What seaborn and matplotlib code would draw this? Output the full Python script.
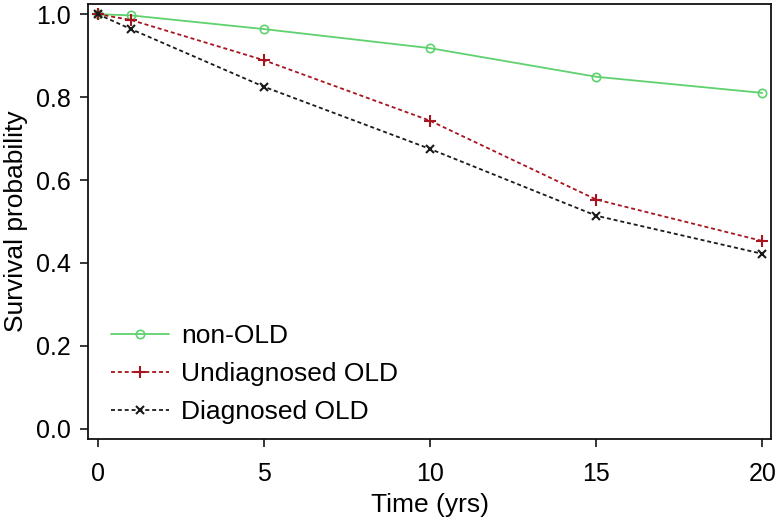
import numpy as np
import pandas as pd
import matplotlib
matplotlib.use("Agg")
import matplotlib.pyplot as plt
import seaborn as sns

sns.set_style("white")
plt.rcParams['font.family'] = ['Liberation Sans', 'DejaVu Sans']
plt.rcParams.update({
    'font.size': 18,
    'xtick.labelsize': 18,
    'ytick.labelsize': 18,
    'axes.labelsize': 19,
    'legend.fontsize': 19,
    'axes.linewidth': 1.3,
    'xtick.major.size': 6,
    'ytick.major.size': 6,
    'xtick.major.width': 1.1,
    'ytick.major.width': 1.1,
    'text.color': 'black',
    'axes.labelcolor': 'black',
    'xtick.color': 'black',
    'ytick.color': 'black',
})

# D A T A
time_yrs = [0, 1, 5, 10, 15, 20]
non_old = [1.0, 0.997, 0.964, 0.918, 0.849, 0.810]
undiag_old = [1.0, 0.986, 0.889, 0.743, 0.553, 0.453]
diag_old = [1.0, 0.964, 0.825, 0.675, 0.514, 0.422]
groups = ["non-OLD", "Undiagnosed OLD", "Diagnosed OLD"]

df = pd.DataFrame({
    "time": time_yrs * 3,
    "surv": non_old + undiag_old + diag_old,
    "group": np.repeat(groups, len(time_yrs)),
})

colors = {"non-OLD": "#5fd16e", "Undiagnosed OLD": "#a8141f", "Diagnosed OLD": "#1a1a1a"}
styles = {
    "non-OLD": dict(marker="o", ls="-", ms=6, mfc="none", mew=1.2),
    "Undiagnosed OLD": dict(marker="+", ls=(0, (2.2, 1.6)), ms=9, mew=1.5),
    "Diagnosed OLD": dict(marker="x", ls=(0, (2.2, 1.6)), ms=6, mew=1.5),
}

fig = plt.figure(figsize=(7.76, 5.23), dpi=100)
ax = fig.add_axes([0.113, 0.161, 0.881, 0.831])

for g in groups:
    sub = df[df["group"] == g]
    st = styles[g]
    sns.lineplot(data=sub, x="time", y="surv", ax=ax, color=colors[g],
                 linestyle=st["ls"], marker=st["marker"], markersize=st["ms"],
                 markerfacecolor=st.get("mfc", colors[g]), markeredgecolor=colors[g],
                 markeredgewidth=st["mew"], lw=1.3, label=g)

ax.set_xlim(-0.3, 20.27)
ax.set_ylim(-0.024, 1.024)
ax.set_xticks([0, 5, 10, 15, 20])
ax.set_yticks([0.0, 0.2, 0.4, 0.6, 0.8, 1.0])
ax.set_yticklabels(["0.0", "0.2", "0.4", "0.6", "0.8", "1.0"])
ax.set_xlabel("Time (yrs)", labelpad=5)
ax.set_ylabel("Survival probability", labelpad=6)
ax.tick_params(axis='x', which='major', direction='out', bottom=True, pad=11)
ax.tick_params(axis='y', which='major', direction='out', left=True, pad=6)
for sp in ax.spines.values():
    sp.set_color("#111111")

ax.legend(loc="lower left", bbox_to_anchor=(0.0, -0.02), frameon=False,
          handlelength=2.2, handletextpad=0.45, labelspacing=0.52)

plt.savefig("out.png", dpi=100)
